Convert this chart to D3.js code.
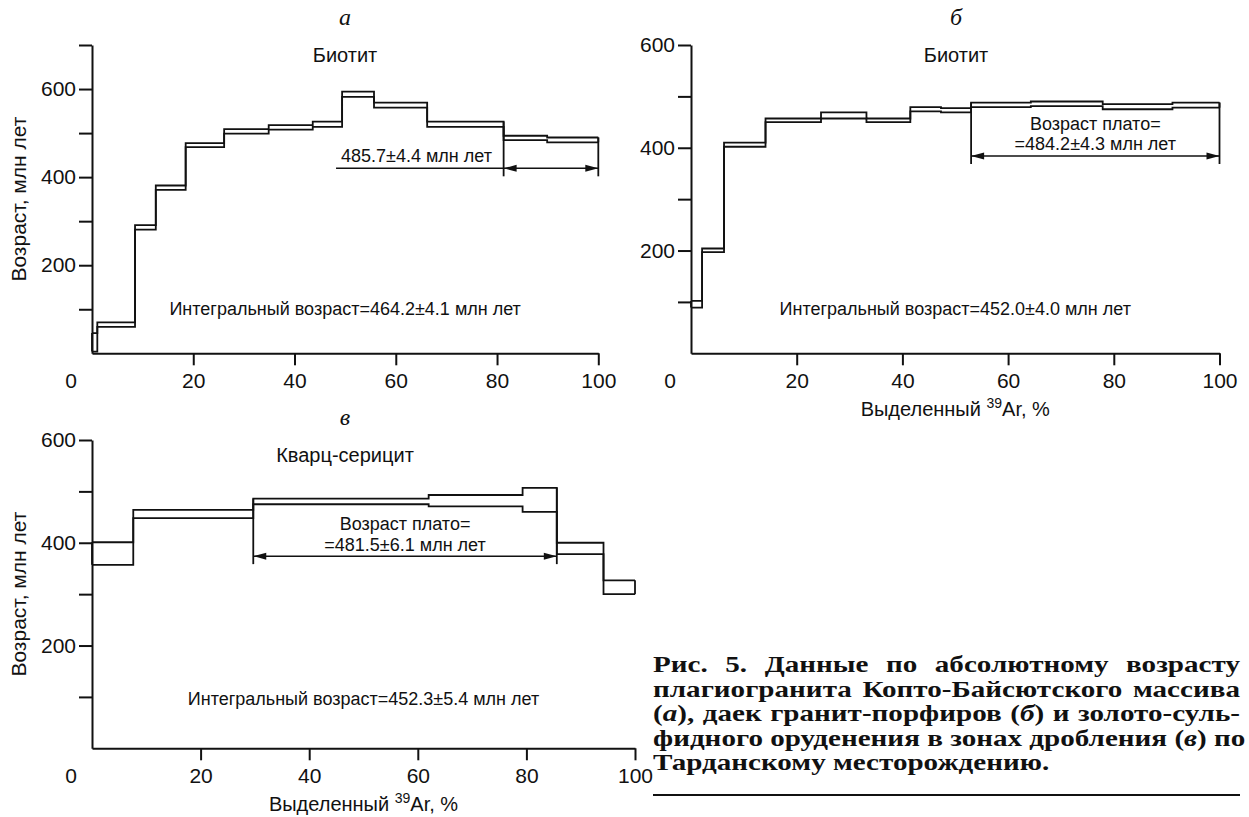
<!DOCTYPE html>
<html>
<head>
<meta charset="utf-8">
<script src="https://cdn.jsdelivr.net/npm/d3@7"></script>
<style>
  body { margin: 0; background: #fff; }
  #fig { position: absolute; left: 0; top: 0; }
  .caption {
    position: absolute; left: 653px; top: 653px; width: 464px;
    transform: scaleX(1.265); transform-origin: 0 0;
    font-family: "Liberation Serif", "Times New Roman", serif;
    font-weight: bold; font-size: 23px; line-height: 24.5px; color: #111;
  }
  .caption div { text-align: justify; text-align-last: justify; white-space: nowrap; }
  .caption div.last { text-align-last: left; }
  .rule { position: absolute; left: 653px; top: 794px; width: 587px; height: 2px; background: #111; }
</style>
</head>
<body>
<svg id="fig"></svg>
<div class="caption">
  <div>Рис. 5. Данные по абсолютному возрасту</div>
  <div>плагиогранита Копто-Байсютского массива</div>
  <div>(<i>а</i>), даек гранит-порфиров (<i>б</i>) и золото-суль-</div>
  <div>фидного оруденения в зонах дробления (<i>в</i>) по</div>
  <div class="last">Тарданскому месторождению.</div>
</div>
<div class="rule"></div>
<script>
// DATA ------------------------------
// step boundaries (cumulative 39Ar, %), upper / lower age of each step (Ma)

// а: biotite, plagiogranite
const stepsA = [0, 1.05, 8.5, 12.6, 18.5, 26.1, 34.9, 43.6, 49.4, 55.7, 66.2, 81.3, 89.9, 100];
const upperA = [46, 70, 291, 381, 477, 509, 518, 526, 594, 569, 526, 494, 490];
const lowerA = [4, 60, 281, 371, 468, 499, 508, 514, 582, 558, 514, 484, 479];

// б: biotite, granite porphyry dykes
const stepsB = [0, 2.1, 6.25, 14.1, 24.6, 33.2, 41.5, 47.3, 53, 64.3, 77.9, 91.1, 100];
const upperB = [102, 204, 410, 457, 469, 457, 479, 477, 488, 490, 485, 488];
const lowerB = [89, 197, 402, 450, 457, 450, 471, 469, 479, 481, 475, 478];

// в: quartz-sericite
const stepsC = [0, 7.6, 29.7, 62, 79.3, 85.6, 94.2, 100];
const upperC = [401, 464, 486, 493, 507, 400, 327];
const lowerC = [357, 448, 475, 471, 460, 378, 300];

// plateau ranges (%), and the age level of the arrow
const plateauA = [81.3, 100], arrowA = 420;
const plateauB = [53, 100], arrowB = 384;
const plateauC = [29.7, 85.6], arrowC = 374;

const xTicks = [20, 40, 60, 80, 100];
const yTicksA = [100, 200, 300, 400, 500, 600, 700];
const yTicksBC = [100, 200, 300, 400, 500, 600];
const yLabels = [200, 400, 600];

const titles = ["Биотит", "Биотит", "Кварц-серицит"];
const letters = ["а", "б", "в"];
const integral = ["Интегральный возраст=464.2±4.1 млн лет",
                  "Интегральный возраст=452.0±4.0 млн лет",
                  "Интегральный возраст=452.3±5.4 млн лет"];
const plateauText = ["485.7±4.4 млн лет",
                     ["Возраст плато=", "=484.2±4.3 млн лет"],
                     ["Возраст плато=", "=481.5±6.1 млн лет"]];

// CHART ------------------------------
const W = 1249, H = 817;
const SANS = "'Liberation Sans', Arial, sans-serif";
const SERIF = "'Liberation Serif', 'Times New Roman', serif";
const ink = "#111";

const svg = d3.select("#fig").attr("width", W).attr("height", H);

const panels = [
  {steps: stepsA, hi: upperA, lo: lowerA, plateau: plateauA, arrow: arrowA,
   x: [92, 598.3], y: [353.3, 45], yMax: 700, yTicks: yTicksA,
   title: titles[0], titleX: 345, letter: letters[0], integral: integral[0],
   pText: plateauText[0], yTitle: true, xTitle: false},
  {steps: stepsB, hi: upperB, lo: lowerB, plateau: plateauB, arrow: arrowB,
   x: [691, 1219.5], y: [353.3, 45], yMax: 600, yTicks: yTicksBC,
   title: titles[1], titleX: 956, letter: letters[1], integral: integral[1],
   pText: plateauText[1], yTitle: false, xTitle: true},
  {steps: stepsC, hi: upperC, lo: lowerC, plateau: plateauC, arrow: arrowC,
   x: [92, 635], y: [748.3, 440], yMax: 600, yTicks: yTicksBC,
   title: titles[2], titleX: 345, letter: letters[2], integral: integral[2],
   pText: plateauText[2], yTitle: true, xTitle: true}
];

panels.forEach(drawPanel);

function drawPanel(p) {
  const x = d3.scaleLinear().domain([0, 100]).range(p.x);
  const y = d3.scaleLinear().domain([0, p.yMax]).range(p.y);
  const g = svg.append("g");

  // axes
  const xAxis = d3.axisBottom(x).tickValues(xTicks).tickSize(12).tickPadding(8).tickSizeOuter(0);
  const yAxis = d3.axisLeft(y).tickValues(p.yTicks).tickSize(13).tickPadding(3).tickSizeOuter(0)
      .tickFormat(d => yLabels.includes(d) ? d : "");

  const gx = g.append("g").attr("transform", `translate(0,${p.y[0]})`).call(xAxis);
  const gy = g.append("g").attr("transform", `translate(${p.x[0]},0)`).call(yAxis);
  [gx, gy].forEach(a => {
    a.attr("font-family", SANS).attr("font-size", 21);
    a.selectAll("path, line").attr("stroke", ink).attr("stroke-width", 2);
    a.selectAll("text").attr("fill", ink);
  });
  // corner zero
  g.append("text").attr("x", p.x[0] - 21).attr("y", p.y[0] + 34.5)
    .attr("text-anchor", "middle").attr("font-family", SANS).attr("font-size", 21)
    .attr("fill", ink).text("0");

  // step spectrum: upper and lower envelopes
  const n = p.hi.length;
  const line = d3.line().x(d => x(d[0])).y(d => y(d[1])).curve(d3.curveStepAfter);
  [p.hi, p.lo].forEach(vals => {
    const pts = p.steps.slice(0, n).map((s, i) => [s, vals[i]]);
    pts.push([p.steps[n], vals[n - 1]]);
    g.append("path").attr("d", line(pts))
      .attr("fill", "none").attr("stroke", ink).attr("stroke-width", 1.8);
  });
  // closing ends
  [[0, 0], [p.steps[n], n - 1]].forEach(([s, i]) => {
    g.append("line").attr("x1", x(s)).attr("x2", x(s))
      .attr("y1", y(p.lo[i])).attr("y2", y(p.hi[i]))
      .attr("stroke", ink).attr("stroke-width", 1.8);
  });

  // plateau bracket
  const ay = y(p.arrow);
  const x0 = x(p.plateau[0]), x1 = x(p.plateau[1]);
  const topAt = s => {
    const vals = [];
    p.steps.forEach((b, i) => {
      if (Math.abs(b - s) < 1e-6) {
        if (i > 0) vals.push(p.hi[i - 1]);
        if (i < n) vals.push(p.hi[i]);
      }
    });
    return y(d3.max(vals));
  };
  [[x0, p.plateau[0]], [x1, p.plateau[1]]].forEach(([px, s]) => {
    g.append("line").attr("x1", px).attr("x2", px)
      .attr("y1", topAt(s)).attr("y2", ay + 8)
      .attr("stroke", ink).attr("stroke-width", 1.8);
  });
  const lineStart = Array.isArray(p.pText) ? x0 : x(48.2);
  g.append("line").attr("x1", lineStart).attr("x2", x1).attr("y1", ay).attr("y2", ay)
    .attr("stroke", ink).attr("stroke-width", 1.5);
  const head = (tip, dir) => `M${tip},${ay}L${tip - dir * 13},${ay - 3.5}L${tip - dir * 13},${ay + 3.5}Z`;
  g.append("path").attr("d", head(x0, -1)).attr("fill", ink);
  g.append("path").attr("d", head(x1, 1)).attr("fill", ink);

  if (Array.isArray(p.pText)) {
    const cx = (x0 + x1) / 2;
    p.pText.forEach((t, i) => {
      g.append("text").attr("x", cx).attr("y", ay - 26 + i * 20.5)
        .attr("text-anchor", "middle").attr("font-family", SANS).attr("font-size", 18)
        .attr("fill", ink).text(t);
    });
  } else {
    g.append("text").attr("x", lineStart + 5).attr("y", ay - 6.5)
      .attr("font-family", SANS).attr("font-size", 18).attr("fill", ink).text(p.pText);
  }

  // texts
  g.append("text").attr("x", x(50)).attr("y", p.y[0] - (p.yTitle && p.xTitle ? 43 : 38))
    .attr("text-anchor", "middle").attr("font-family", SANS).attr("font-size", 18)
    .attr("fill", ink).text(p.integral);

  const topY = p.y[0] === 353.3 ? 0 : 400;
  g.append("text").attr("x", p.titleX).attr("y", topY + 62)
    .attr("text-anchor", "middle").attr("font-family", SANS).attr("font-size", 20)
    .attr("fill", ink).text(p.title);
  g.append("text").attr("x", p.titleX).attr("y", topY + 25)
    .attr("text-anchor", "middle").attr("font-family", SERIF).attr("font-style", "italic")
    .attr("font-size", 24).attr("fill", ink).text(p.letter);

  if (p.yTitle) {
    g.append("text")
      .attr("transform", `translate(26,${(p.y[0] + p.y[1]) / 2}) rotate(-90)`)
      .attr("text-anchor", "middle").attr("font-family", SANS).attr("font-size", 21)
      .attr("fill", ink).text("Возраст, млн лет");
  }
  if (p.xTitle) {
    const t = g.append("text").attr("x", x(50)).attr("y", p.y[0] + 63)
      .attr("text-anchor", "middle").attr("font-family", SANS).attr("font-size", 20)
      .attr("fill", ink);
    t.append("tspan").text("Выделенный ");
    t.append("tspan").attr("font-size", 14).attr("dy", -8).text("39");
    t.append("tspan").attr("dy", 8).text("Ar, %");
  }
}
</script>
</body>
</html>
